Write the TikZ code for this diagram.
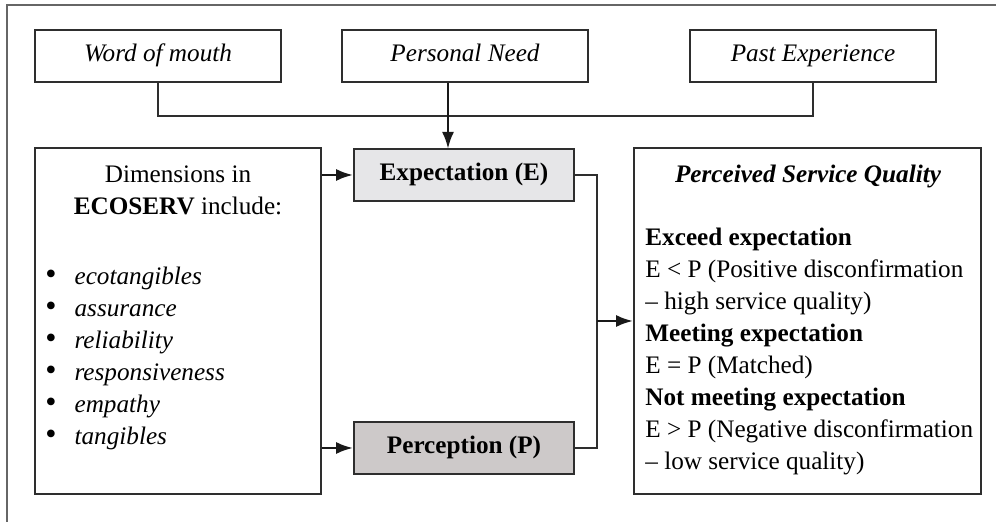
\documentclass[tikz,border=0pt]{standalone}
\usepackage{fontspec}
\setmainfont{Liberation Serif}
\usepackage{xcolor}
\usepackage{tikz}
\usetikzlibrary{arrows.meta}

\definecolor{framegray}{HTML}{2E2E2E}
\definecolor{expfill}{HTML}{E6E6E8}
\definecolor{perfill}{HTML}{CDC9C9}

\newcommand{\dimbullet}{{\fontsize{16}{16}\selectfont •}}

\begin{document}
\begin{tikzpicture}[x=0.5pt,y=-0.5pt,
    every node/.style={font=\fontsize{12.6}{16}\selectfont},
    srcbox/.style={draw=framegray, line width=0.8pt, minimum width=123pt, minimum height=26pt, text height=9pt, text depth=3pt, font=\fontsize{12.6}{16}\selectfont\itshape},
    evalbox/.style={draw=framegray, line width=0.8pt, minimum width=110pt, minimum height=26pt, text height=9pt, text depth=3pt, font=\fontsize{12.6}{16}\selectfont\bfseries},
    bigbox/.style={draw=framegray, line width=0.8pt, minimum height=173pt},
    link/.style={draw=framegray, line width=0.7pt},
    arr/.style={draw=black!90, line width=1.4pt, -{Latex[length=8.5pt, width=6pt]}}]
             \useasboundingbox (0,0) rectangle (996,522);
             \draw[black!60, line width=0.9pt] (7,522) -- (7,5) -- (996,5);

             % top row
             \node[srcbox] (wom) at (158, 56) {Word of mouth};
             \node[srcbox] (need) at (465, 56) {Personal Need};
             \node[srcbox] (past) at (813, 56) {Past Experience};
             \coordinate (join) at (448, 116);
             \draw[link] (wom.south) |- (join) -| (past.south);
             \draw[arr] (need.south -| join) -- (448, 149);

             % middle
             \node[evalbox, fill=expfill] (expect) at (464, 175) {Expectation (E)};
             \node[evalbox, fill=perfill] (percept) at (464, 448) {Perception (P)};

             \node[bigbox, minimum width=143pt] (dims) at (178, 321) {};
             \node[align=center] (dimshead) at (178, 190) {Dimensions in\\\textbf{ECOSERV} include:};
             \node[anchor=north west, inner sep=0pt] (dimslist) at (45, 262) {%
               \begin{tabular}{@{}l@{\hspace{9pt}}l@{}}
               \dimbullet & \textit{ecotangibles}\\
               \dimbullet & \textit{assurance}\\
               \dimbullet & \textit{reliability}\\
               \dimbullet & \textit{responsiveness}\\
               \dimbullet & \textit{empathy}\\
               \dimbullet & \textit{tangibles}
               \end{tabular}};

             \draw[arr] (expect.west -| dims.east) -- (expect.west);
             \draw[arr] (percept.west -| dims.east) -- (percept.west);

             % right
             \node[bigbox, minimum width=173.5pt] (pqual) at (807.5, 321) {};
             \node (pqhead) at (808, 176) {\textbf{\textit{Perceived Service Quality}}};
             \node[anchor=north west, inner sep=0pt, align=left] (pqlist) at (645, 228) {%
               \textbf{Exceed expectation}\\
               E < P (Positive disconfirmation\\
               – high service quality)\\
               \textbf{Meeting expectation}\\
               E = P (Matched)\\
               \textbf{Not meeting expectation}\\
               E > P (Negative disconfirmation\\
               – low service quality)};

             \coordinate (bus) at (597, 321);
             \draw[link] (expect.east) -| (bus) |- (percept.east);
             \draw[arr] (bus) -- (pqual.west);
\end{tikzpicture}
\end{document}
